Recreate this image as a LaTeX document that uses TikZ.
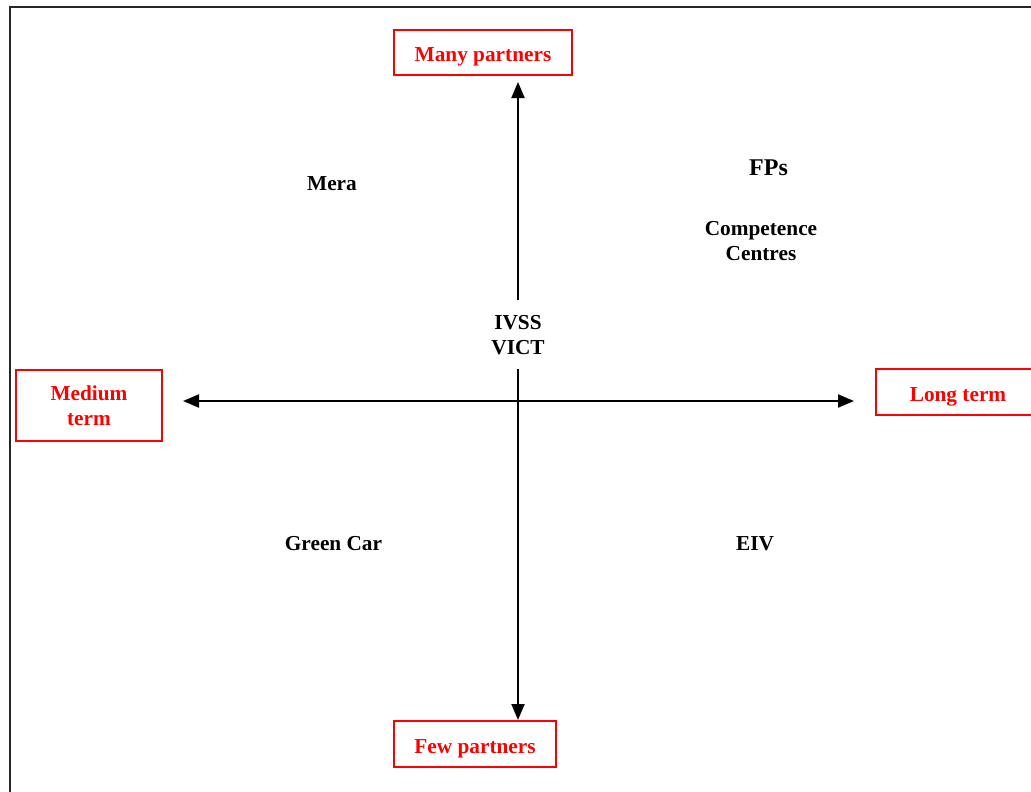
\documentclass[tikz,border=0pt]{standalone}
\usepackage{fontspec}
\setmainfont{Liberation Serif}
\usetikzlibrary{arrows.meta}
\tikzset{
  redbox/.style={draw=red, line width=2pt, text=red, font=\bfseries\fontsize{21.3}{25}\selectfont, align=center, inner sep=0pt},
  oneline/.style={text height=18pt, text depth=0pt},
  lbl/.style={font=\bfseries\fontsize{21.3}{25}\selectfont, align=center, inner sep=0pt},
  axis/.style={line width=2pt, -{Triangle[length=16pt,width=13pt]}},
}
\begin{document}
\begin{tikzpicture}[x=1pt,y=-1pt]
\useasboundingbox (0,0) rectangle (1031,792);
\clip (0,0) rectangle (1031,792);
% outer frame
\draw[line width=2pt, black!85] (9.5,7.5) rectangle (1045,805);
% boxes
\node[redbox, oneline, minimum width=178pt, minimum height=45pt] (many) at (483,52.5) {Many partners};
\node[redbox, oneline, minimum width=162pt, minimum height=46pt] (few) at (475,744) {Few partners};
\node[redbox, minimum width=146pt, minimum height=71pt] (medium) at (89,405.5) {Medium\\term};
\node[redbox, oneline, minimum width=164pt, minimum height=46pt] (long) at (958,392) {Long term};
% labels
\node[lbl] (ivss) at (518,335) {IVSS\\VICT};
\node[lbl] (mera) at (332,183.5) {Mera};
\node[lbl, font=\bfseries\fontsize{24}{28}\selectfont] (fps) at (768.5,168) {FPs};
\node[lbl] (cc) at (761,241) {Competence\\Centres};
\node[lbl] (green) at (333.5,543.5) {Green Car};
\node[lbl] (eiv) at (755,543.5) {EIV};
% axes
\coordinate (c) at (518,401);
\coordinate (vtop) at (518,300);
\coordinate (vbot) at (518,369);
\draw[axis, shorten >=6pt] (vtop) -- (vtop |- many.south);
\draw[axis] (vbot) -- (vbot |- few.north);
\draw[axis, shorten >=20pt] (c) -- (c -| medium.east);
\draw[axis, shorten >=21pt] (c) -- (c -| long.west);
\end{tikzpicture}
\end{document}
